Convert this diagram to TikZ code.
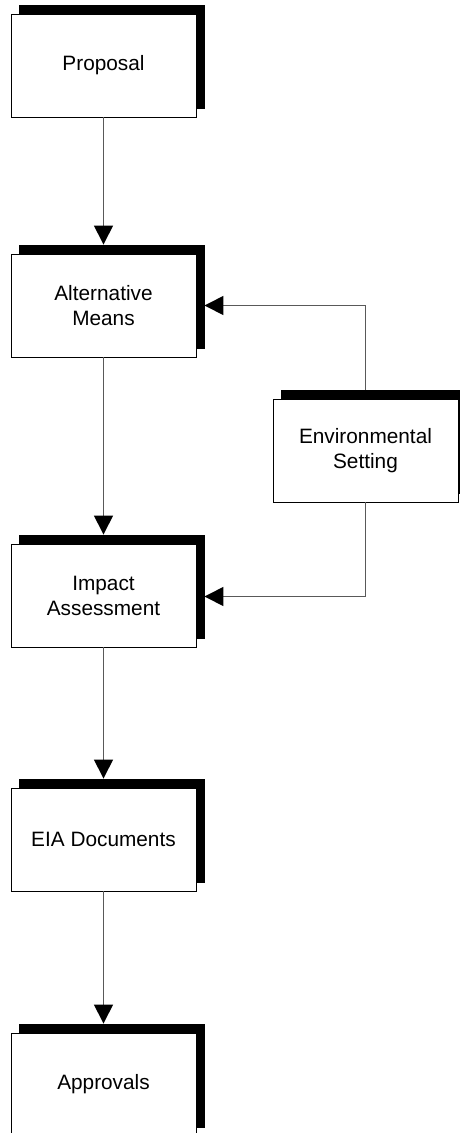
\documentclass[tikz,border=0pt]{standalone}
\usepackage{fontspec}
\setmainfont{Liberation Sans}
\usetikzlibrary{arrows.meta,calc}
\definecolor{wire}{gray}{0.35}
\tikzset{
  frontbox/.style={draw=black, line width=0.9pt, fill=white,
    minimum width=185pt, minimum height=103pt, inner sep=0pt,
    align=center, font=\fontsize{20.8}{25}\selectfont},
  shadowbox/.style={draw=black, fill=black, line width=0.9pt,
    minimum width=185pt, minimum height=103pt, inner sep=0pt},
  flow/.style={draw=wire, line width=1.4pt,
    -{Triangle[length=19pt,width=19pt,color=black]}},
}
% draws a box with its solid offset shadow behind it
\newcommand{\shadowedbox}[3]{%
  \node[shadowbox] (#1s) at ($(#2)+(8,-9)$) {};
  \node[frontbox] (#1) at (#2) {#3};
}
\begin{document}
\begin{tikzpicture}[x=1pt,y=-1pt]
\useasboundingbox (0,0) rectangle (460,1133);
\clip (0,0) rectangle (460,1133);
\shadowedbox{P}{103.5,65.5}{Proposal}
\shadowedbox{A}{103.5,305.5}{Alternative\\Means}
\shadowedbox{E}{365.5,450.5}{Environmental\\Setting}
\shadowedbox{I}{103.5,595.5}{Impact\\Assessment}
\shadowedbox{D}{103.5,839.5}{EIA Documents}
\shadowedbox{R}{103.5,1084.5}{Approvals}
% main chain
\draw[flow] (P.south) -- (P.south |- As.north);
\draw[flow] (A.south) -- (A.south |- Is.north);
\draw[flow] (I.south) -- (I.south |- Ds.north);
\draw[flow] (D.south) -- (D.south |- Rs.north);
% environmental setting feeds both stages
\draw[flow] (E.north |- Es.north) -- (E.north |- A.center) -- (A.center -| As.east);
\draw[flow] (E.south) -- ($(E.south |- I.center)+(0,1)$) -- ($(I.center -| Is.east)+(0,1)$);
\end{tikzpicture}
\end{document}
